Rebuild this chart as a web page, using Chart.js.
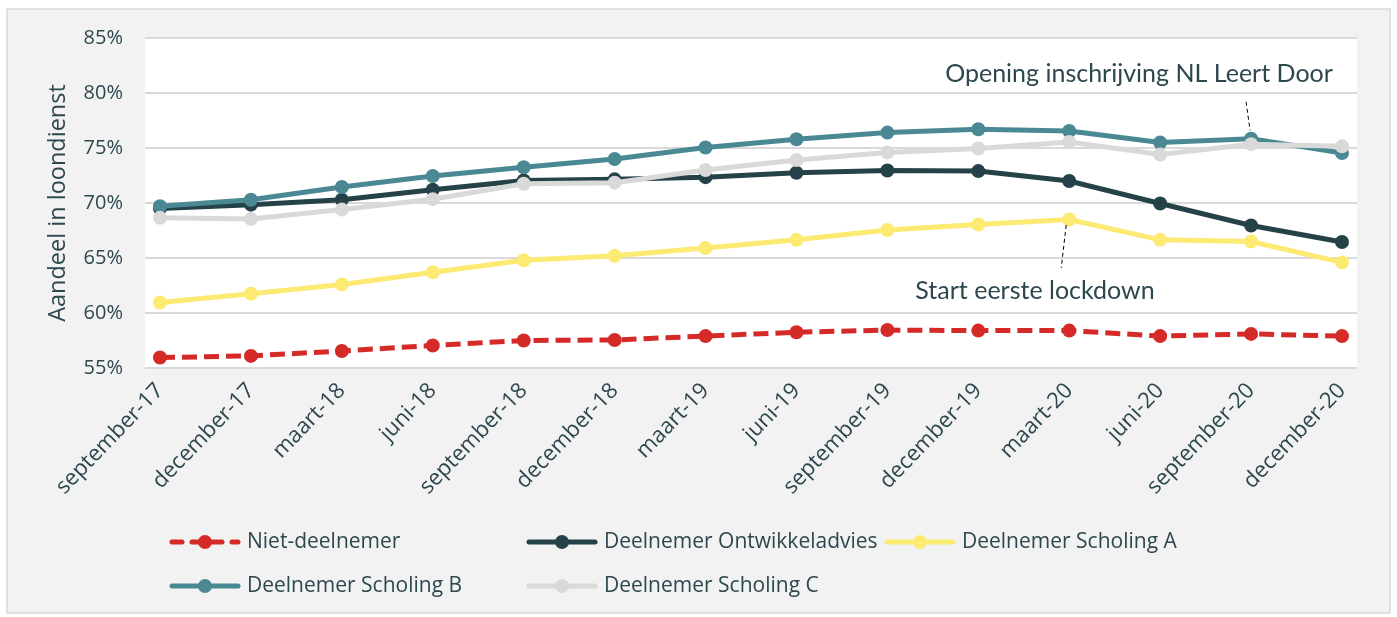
<!DOCTYPE html>
<html>
<head>
<meta charset="utf-8">
<script src="https://cdn.jsdelivr.net/npm/chart.js@4/dist/chart.umd.min.js"></script>
<style>
  html, body { margin: 0; padding: 0; background: #ffffff; }
  #wrap { position: relative; width: 1397px; height: 617px; }
</style>
</head>
<body>
<div id="wrap"><canvas id="chart" width="1397" height="617"></canvas></div>
<script>
const periods = ['september-17', 'december-17', 'maart-18', 'juni-18', 'september-18', 'december-18',
  'maart-19', 'juni-19', 'september-19', 'december-19', 'maart-20', 'juni-20', 'september-20', 'december-20'];

const nietDeelnemer = [55.95, 56.1, 56.55, 57.05, 57.5, 57.55, 57.9, 58.25, 58.45, 58.4, 58.4, 57.9, 58.1, 57.9];
const ontwikkeladvies = [69.5, 69.85, 70.3, 71.2, 72.05, 72.15, 72.35, 72.75, 72.95, 72.9, 72.0, 69.95, 67.95, 66.45];
const scholingA = [60.95, 61.75, 62.6, 63.7, 64.8, 65.2, 65.9, 66.65, 67.55, 68.05, 68.5, 66.65, 66.5, 64.6];
const scholingB = [69.7, 70.3, 71.45, 72.45, 73.25, 74.0, 75.05, 75.8, 76.4, 76.7, 76.55, 75.5, 75.85, 74.55];
const scholingC = [68.65, 68.55, 69.4, 70.35, 71.75, 71.85, 73.0, 73.9, 74.6, 74.95, 75.55, 74.4, 75.35, 75.15];

const yTicks = [55, 60, 65, 70, 75, 80, 85];

// annotations: label, category index, from/to value of the leader line
const notes = [
  { text: 'Opening inschrijving NL Leert Door', idx: 12, from: 79.2, to: 76.6, dx: -5, tilt: 4, textX: 1139, textY: 74 },
  { text: 'Start eerste lockdown', idx: 10, from: 68.0, to: 64.1, dx: -3, tilt: -5, textX: 1035, textY: 291 }
];

const textColor = '#2d474e';
const fontFam = '"Open Sans", "Noto Sans", sans-serif';

const toPoints = arr => arr.map((v, i) => ({ x: i, y: v }));

function series(label, data, color, order, dash) {
  return {
    label,
    data: toPoints(data),
    borderColor: color,
    backgroundColor: color,
    pointBackgroundColor: color,
    pointBorderColor: color,
    borderWidth: 5,
    pointRadius: 7,
    pointBorderWidth: 0,
    borderDash: dash || [],
    order,
    tension: 0
  };
}

const datasets = [
  series('Niet-deelnemer', nietDeelnemer, '#d42b29', 5, [15, 7]),
  series('Deelnemer Ontwikkeladvies', ontwikkeladvies, '#254249', 4),
  series('Deelnemer Scholing A', scholingA, '#fcea72', 3),
  series('Deelnemer Scholing B', scholingB, '#4a8894', 2),
  series('Deelnemer Scholing C', scholingC, '#d9d9d9', 1)
];

// legend slots (column x, row y)
const legendSlots = [[170, 542], [527, 542], [885, 542], [170, 586], [527, 586]];

const framePlugin = {
  id: 'frame',
  beforeDraw(chart) {
    const { ctx, chartArea: a } = chart;
    ctx.save();
    ctx.fillStyle = '#f2f2f2';
    ctx.fillRect(7, 9, 1383, 604);
    ctx.strokeStyle = '#d9d9d9';
    ctx.lineWidth = 1.5;
    ctx.strokeRect(7, 9, 1383, 604);
    ctx.fillStyle = '#ffffff';
    ctx.fillRect(a.left, a.top, a.right - a.left, a.bottom - a.top);
    ctx.restore();
  },
  afterDraw(chart) {
    const { ctx, scales: { x, y } } = chart;
    ctx.save();
    // annotations
    ctx.fillStyle = textColor;
    ctx.font = '400 25px Lato, sans-serif';
    ctx.textAlign = 'center';
    ctx.textBaseline = 'middle';
    notes.forEach(n => {
      ctx.fillText(n.text, n.textX, n.textY);
      const px = x.getPixelForValue(n.idx);
      ctx.beginPath();
      ctx.setLineDash([4, 3]);
      ctx.strokeStyle = '#000000';
      ctx.lineWidth = 1;
      ctx.moveTo(px + n.dx, y.getPixelForValue(n.from));
      ctx.lineTo(px + n.dx + n.tilt, y.getPixelForValue(n.to));
      ctx.stroke();
    });
    ctx.setLineDash([]);
    // legend
    ctx.font = '21px ' + fontFam;
    ctx.textAlign = 'left';
    chart.data.datasets.forEach((ds, i) => {
      const [lx, ly] = legendSlots[i];
      ctx.strokeStyle = ds.borderColor;
      ctx.lineWidth = 5;
      ctx.lineCap = 'round';
      ctx.setLineDash(ds.borderDash.length ? [10, 10] : []);
      ctx.beginPath();
      ctx.moveTo(lx + 2, ly);
      ctx.lineTo(lx + 68, ly);
      ctx.stroke();
      ctx.setLineDash([]);
      ctx.fillStyle = ds.borderColor;
      ctx.beginPath();
      ctx.arc(lx + 35, ly, 7, 0, Math.PI * 2);
      ctx.fill();
      ctx.fillStyle = textColor;
      ctx.fillText(ds.label, lx + 77, ly);
    });
    ctx.restore();
  }
};

new Chart(document.getElementById('chart'), {
  type: 'line',
  data: { datasets },
  options: {
    responsive: false,
    animation: false,
    layout: { padding: { top: 38, right: 40, left: 0, bottom: 0 } },
    plugins: { legend: { display: false }, tooltip: { enabled: false } },
    scales: {
      x: {
        type: 'linear',
        min: -0.165,
        max: 13.165,
        grid: { display: false },
        border: { display: false },
        afterFit: s => { s.height = 249; },
        afterBuildTicks: s => { s.ticks = periods.map((p, i) => ({ value: i })); },
        ticks: {
          autoSkip: false,
          minRotation: 46,
          maxRotation: 46,
          padding: 2,
          color: textColor,
          font: { family: fontFam, size: 22 },
          callback: v => periods[v]
        }
      },
      y: {
        min: 55,
        max: 85,
        afterFit: s => { s.width = 145; },
        afterBuildTicks: s => { s.ticks = yTicks.map(v => ({ value: v })); },
        grid: { color: '#d9d9d9', lineWidth: 2, drawTicks: false },
        border: { display: false },
        ticks: {
          padding: 22,
          color: textColor,
          font: { family: fontFam, size: 20 },
          callback: v => v + '%'
        },
        title: {
          display: true,
          text: 'Aandeel in loondienst',
          color: textColor,
          font: { family: fontFam, size: 23.5 },
          padding: { top: 44, bottom: 0 }
        }
      }
    }
  },
  plugins: [framePlugin]
});
</script>
</body>
</html>
